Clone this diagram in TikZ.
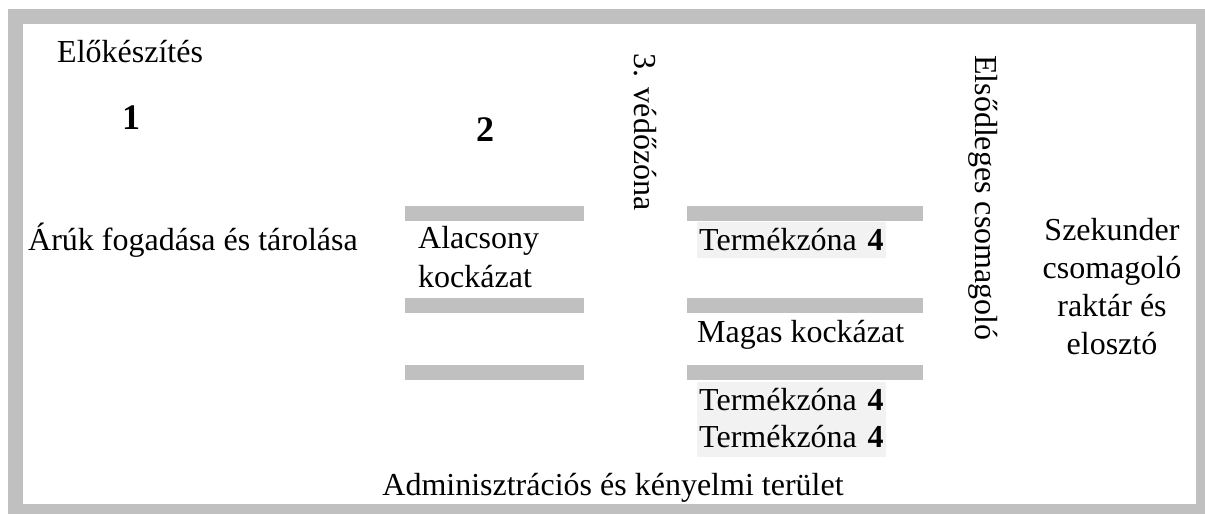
\documentclass[tikz,border=0pt]{standalone}
\usepackage{fontspec}
\setmainfont{Liberation Serif}
\definecolor{framegray}{HTML}{C0C0C0}
\definecolor{zonefill}{HTML}{F2F2F2}
\begin{document}
\begin{tikzpicture}[x=1pt,y=-1pt,
  txt/.style={inner sep=0pt, font=\fontsize{32}{38}\selectfont},
  num/.style={inner sep=0pt, font=\fontsize{36}{42}\selectfont\bfseries},
  vtxt/.style={txt, rotate=-90, anchor=base west},
  bar/.style={fill=framegray},
  zonebox/.style={txt, fill=zonefill, anchor=north west, inner xsep=2pt, inner ysep=0pt,
    text width=185pt, align=left, text height=26pt, text depth=6pt}]
  % page and frame
  \useasboundingbox (0,0) rectangle (1205,514);
  \fill[white] (0,0) rectangle (1205,514);
  \fill[framegray] (8,9) rectangle (1205,514);
  \fill[white] (23,24) rectangle (1196,504);

  % zone 1
  \node[txt, anchor=base west] (prep) at (57,62) {Előkészítés};
  \node[num, anchor=base] (n1) at (131,129) {1};
  \node[txt, anchor=base west] (recv) at (28,250) {Árúk fogadása és tárolása};

  % zone 2
  \node[num, anchor=base] (n2) at (485,141) {2};
  \fill[bar] (405,206) rectangle (584,221);
  \fill[bar] (405,298) rectangle (584,313);
  \fill[bar] (405,365) rectangle (584,380);
  \node[txt, anchor=base west] (low1) at (418,248) {Alacsony};
  \node[txt, anchor=base west] (low2) at (418,287) {kockázat};

  % zone 3
  \node[vtxt] (buffer) at (634,53) {3. védőzóna};

  % zone 4
  \fill[bar] (687,206) rectangle (923,221);
  \fill[bar] (687,298) rectangle (923,313);
  \fill[bar] (687,365) rectangle (923,380);
  \node[zonebox, minimum height=36pt] (pz1) at (697,222) {Termékzóna \textbf{4}};
  \node[txt, anchor=base west] (high) at (697,342) {Magas kockázat};
  \node[zonebox, minimum height=36.5pt] (pz2) at (697,382) {Termékzóna \textbf{4}};
  \node[zonebox, minimum height=37.5pt] (pz3) at (697,419) {Termékzóna \textbf{4}};

  % packaging
  \node[vtxt] (primary) at (975,55) {Elsődleges csomagoló};
  \node[txt, anchor=base] (sec1) at (1112,240) {Szekunder};
  \node[txt, anchor=base] (sec2) at (1112,278) {csomagoló};
  \node[txt, anchor=base] (sec3) at (1112,316) {raktár és};
  \node[txt, anchor=base] (sec4) at (1112,354) {elosztó};

  % admin strip
  \node[txt, anchor=base] (admin) at (613,495) {Adminisztrációs és kényelmi terület};
\end{tikzpicture}
\end{document}
